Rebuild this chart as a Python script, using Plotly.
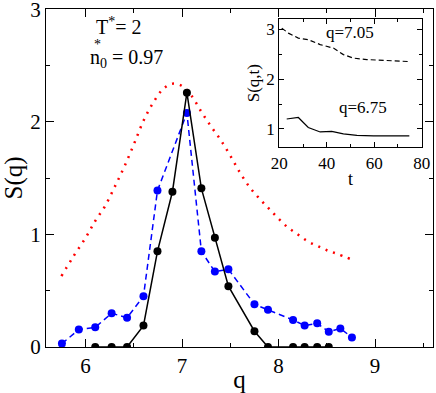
import plotly.graph_objects as go

# black: solid line with markers
q_black = [6.10, 6.27, 6.43, 6.60, 6.745, 6.90, 7.05, 7.20, 7.34, 7.48, 7.75, 7.89, 8.15, 8.27, 8.40, 8.52]
s_black = [0.0, 0.0, 0.0, 0.19, 0.85, 1.38, 2.26, 1.41, 0.97, 0.54, 0.14, 0.0, 0.0, 0.0, 0.0, 0.0]

# blue: dashed line with markers
q_blue = [5.755, 5.93, 6.10, 6.27, 6.43, 6.60, 6.745, 7.05, 7.20, 7.34, 7.48, 7.75, 7.89, 8.15, 8.27, 8.40, 8.52, 8.64, 8.76]
s_blue = [0.03, 0.155, 0.175, 0.30, 0.26, 0.45, 1.39, 2.08, 0.85, 0.67, 0.69, 0.38, 0.33, 0.24, 0.19, 0.21, 0.135, 0.165, 0.085]

# red: dotted curve
q_red = [5.75, 5.87, 6.0, 6.1, 6.2, 6.3, 6.4, 6.5, 6.6, 6.7, 6.8, 6.9, 7.0, 7.1, 7.2,
         7.3, 7.4, 7.5, 7.6, 7.7, 7.8, 7.9, 8.0, 8.1, 8.2, 8.3, 8.4, 8.5, 8.6, 8.75]
s_red = [0.63, 0.80, 0.97, 1.12, 1.25, 1.42, 1.60, 1.80, 2.01, 2.17, 2.29, 2.34, 2.32, 2.23, 2.09,
         1.96, 1.84, 1.70, 1.55, 1.42, 1.32, 1.23, 1.14, 1.06, 1.00, 0.94, 0.90, 0.86, 0.83, 0.78]

# inset: S(q,t) vs t
t_705 = [21.0, 23.8, 28.0, 32.2, 37.2, 42.8, 47.0, 51.2, 56.9, 65.3, 74.8]
s_705 = [3.02, 2.92, 2.82, 2.79, 2.69, 2.62, 2.49, 2.42, 2.39, 2.37, 2.35]
t_675 = [23.1, 28.0, 32.2, 37.2, 42.1, 47.0, 52.7, 59.7, 74.8]
s_675 = [1.20, 1.23, 1.03, 0.94, 0.95, 0.90, 0.87, 0.86, 0.86]

FONT = "Liberation Serif, Times New Roman, serif"

fig = go.Figure()

fig.add_trace(go.Scatter(
    x=q_red, y=s_red, mode="lines", line_shape="spline",
    line=dict(color="red", width=2.5, dash="2px,6px"),
))
fig.add_trace(go.Scatter(
    x=q_blue, y=s_blue, mode="lines+markers",
    line=dict(color="blue", width=1.5, dash="6px,4px"),
    marker=dict(color="blue", size=8),
))
fig.add_trace(go.Scatter(
    x=q_black, y=s_black, mode="lines+markers",
    line=dict(color="black", width=1.5),
    marker=dict(color="black", size=8),
))

# inset
fig.add_trace(go.Scatter(
    x=t_705, y=s_705, mode="lines", xaxis="x2", yaxis="y2",
    line=dict(color="black", width=1.2, dash="5px,3px"),
))
fig.add_trace(go.Scatter(
    x=t_675, y=s_675, mode="lines", xaxis="x2", yaxis="y2",
    line=dict(color="black", width=1.2),
))

axis_common = dict(
    showgrid=False, zeroline=False, showline=True, linecolor="black", linewidth=1.2,
    mirror="allticks", ticks="inside", tickcolor="black", tickwidth=1.2, automargin=False,
    ticklabeloverflow="allow",
)

fig.update_layout(
    width=436, height=393,
    margin=dict(l=46, r=3, t=9, b=46),
    paper_bgcolor="white", plot_bgcolor="white",
    showlegend=False,
    font=dict(family=FONT, color="black", size=21),
    xaxis=dict(
        **axis_common, range=[5.59, 9.6], tick0=6, dtick=1, ticklen=8,
        minor=dict(dtick=0.5, tick0=6, ticklen=4, ticks="inside", tickcolor="black"),
        title=dict(text="q", standoff=3),
    ),
    yaxis=dict(
        **axis_common, range=[0, 3.004], tick0=0, dtick=1, ticklen=8,
        minor=dict(dtick=0.5, tick0=0, ticklen=4, ticks="inside", tickcolor="black"),
        title=dict(text="S(q)", standoff=4),
    ),
    xaxis2=dict(
        **axis_common, domain=[0.603, 0.971], anchor="y2", range=[20, 80.05],
        tick0=20, dtick=20, ticklen=5, tickfont=dict(size=17),
        minor=dict(dtick=10, tick0=20, ticklen=3, ticks="inside", tickcolor="black"),
        title=dict(text="t", font=dict(size=18), standoff=0),
    ),
    yaxis2=dict(
        **axis_common, domain=[0.591, 0.970], anchor="x2", range=[0.634, 3.2],
        tick0=1, dtick=1, ticklen=5, tickfont=dict(size=17),
        minor=dict(dtick=0.5, tick0=1, ticklen=3, ticks="inside", tickcolor="black"),
        title=dict(text="S(q,t)", font=dict(size=17), standoff=2),
    ),
    annotations=[
        dict(text="T<sup>*</sup>= 2", x=0.125, y=0.95, xref="paper", yref="paper",
             xanchor="left", yanchor="middle", showarrow=False, font=dict(size=20)),
        dict(text="n<sub>0</sub> = 0.97", x=0.108, y=0.855, xref="paper", yref="paper",
             xanchor="left", yanchor="middle", showarrow=False, font=dict(size=20)),
        dict(text="*", x=0.134, y=0.895, xref="paper", yref="paper",
             xanchor="center", yanchor="middle", showarrow=False, font=dict(size=14)),
        dict(text="q=7.05", x=49.8, y=2.93, xref="x2", yref="y2",
             showarrow=False, font=dict(size=17)),
        dict(text="q=6.75", x=55.4, y=1.44, xref="x2", yref="y2",
             showarrow=False, font=dict(size=17)),
    ],
)

# the page body has a default 8px margin; drop it so the figure sits at the window corner
fig.write_html("out.html", config={"displayModeBar": False},
               post_script="document.body.style.margin='0';")
